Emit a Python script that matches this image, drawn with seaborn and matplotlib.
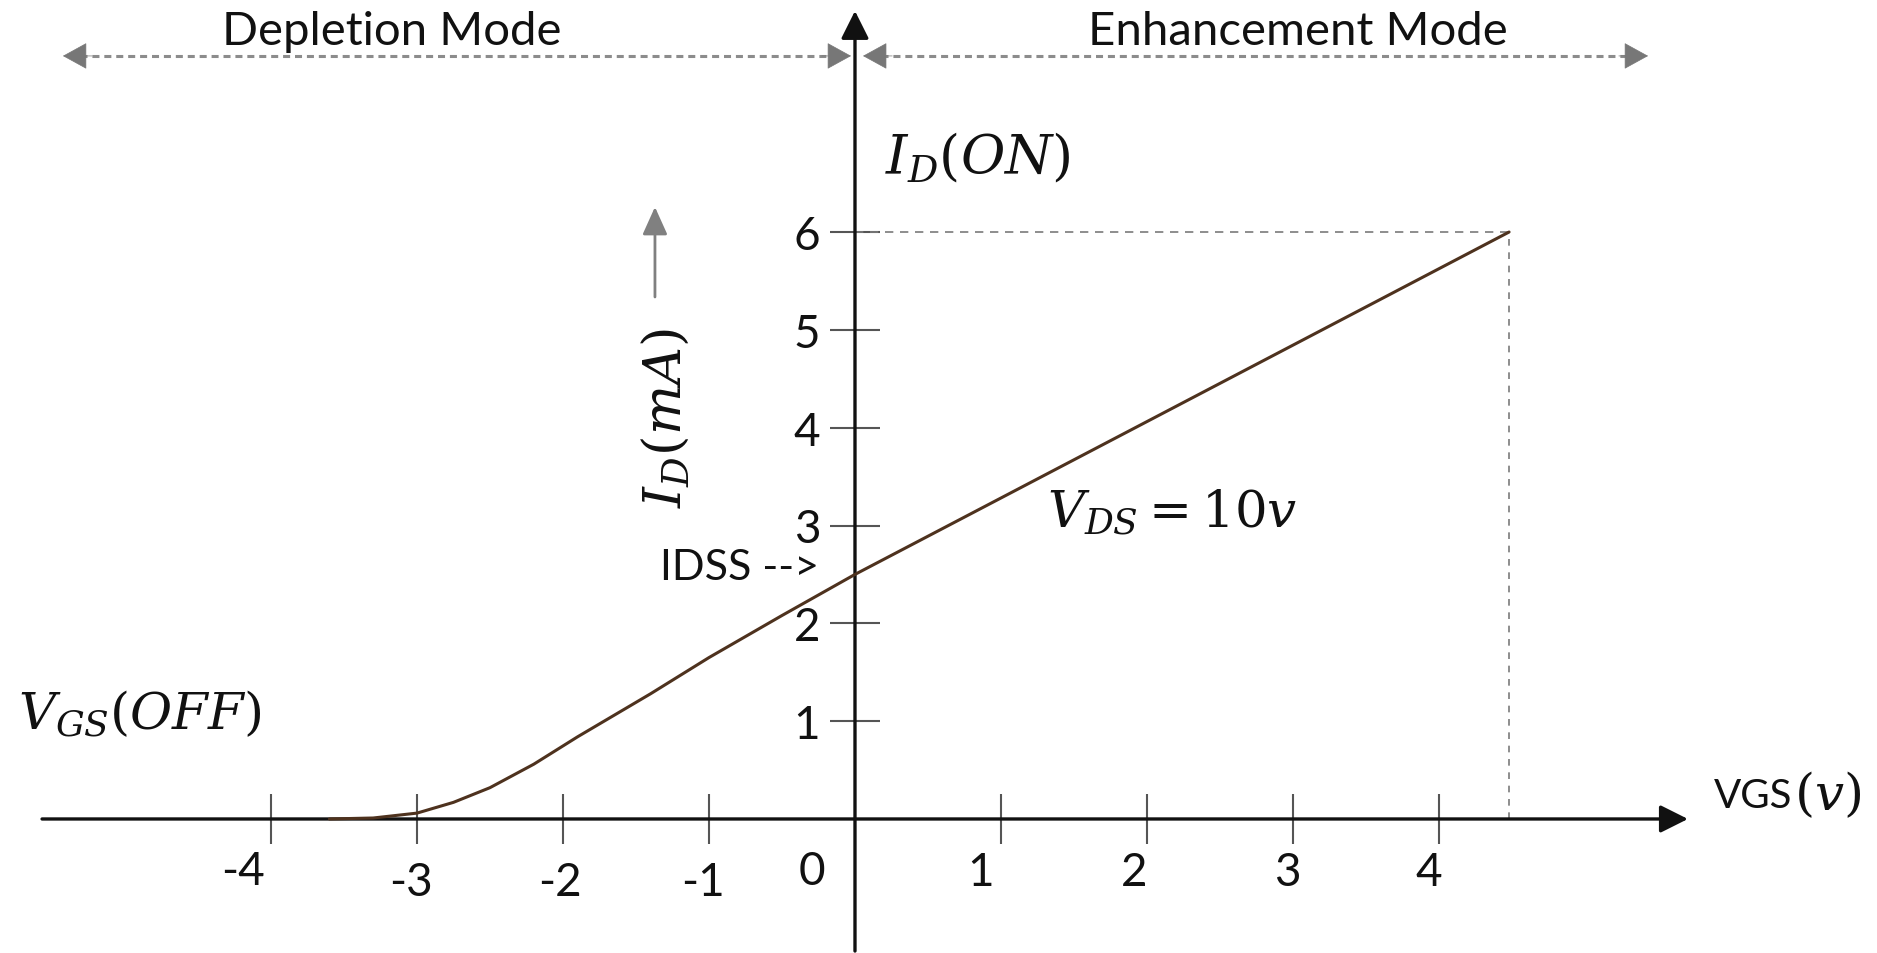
import matplotlib
matplotlib.use("Agg")
import matplotlib.pyplot as plt
import pandas as pd
import seaborn as sns

# Transfer characteristic of a depletion-type MOSFET at V_DS = 10 V
vgs_volts = [-3.6, -3.3, -3.0, -2.75, -2.5, -2.2, -1.9, -1.4, -1.0, -0.5, 0.0, 4.48]
id_milliamps = [0.0, 0.01, 0.06, 0.17, 0.32, 0.56, 0.84, 1.28, 1.65, 2.08, 2.5, 6.0]

x_ticks = [-4, -3, -2, -1, 1, 2, 3, 4]
x_tick_labels = ["-4", "-3", "-2", "-1", "1", "2", "3", "4"]
y_ticks = [1, 2, 3, 4, 5, 6]
y_tick_labels = ["1", "2", "3", "4", "5", "6"]

idss_ma = 2.5      # drain current at V_GS = 0
id_on_ma = 6.0     # I_D(ON)
vgs_on = 4.48      # gate voltage giving I_D(ON)

sns.set_theme(style="white")
plt.rcParams["font.family"] = ["Lato", "DejaVu Sans"]
plt.rcParams["mathtext.fontset"] = "dejavuserif"

INK = "#111111"
GREY = "#808080"

fig = plt.figure(figsize=(18.77, 9.54), dpi=100)
ax = fig.add_axes([0, 0, 1, 1])
ax.set_xlim(-5.856, 7.0)
ax.set_ylim(-1.370, 8.382)
ax.set_facecolor("white")

# Ticks sit on axes passing through the origin
for side in ("left", "bottom"):
    ax.spines[side].set_position(("data", 0))
    ax.spines[side].set_visible(False)
for side in ("right", "top"):
    ax.spines[side].set_visible(False)

ax.set_xticks(x_ticks)
ax.set_yticks(y_ticks)
ax.set_yticklabels(y_tick_labels)
ax.tick_params(axis="both", direction="inout", length=36, width=1.5,
               color="#555555", bottom=True, left=True)
ax.tick_params(axis="x", labelbottom=False)
ax.tick_params(axis="y", labelsize=33, pad=7, labelcolor=INK)
ax.grid(False)

# Axis lines with arrow heads
axis_arrow = dict(arrowstyle="-|>,head_length=1.0,head_width=0.5",
                  mutation_scale=17, color="#111111", lw=2.4,
                  shrinkA=0, shrinkB=0)
ax.annotate("", xy=(5.705, 0), xytext=(-5.568, 0), arrowprops=axis_arrow, zorder=2)
ax.annotate("", xy=(0, 8.26), xytext=(0, -1.35), arrowprops=axis_arrow, zorder=2)

# Hand-placed x tick labels (offsets in pixels)
label_offsets = {"-4": (-28, -52), "-3": (-6, -63), "-2": (-3, -63), "-1": (-6, -63),
                 "1": (-20, -53), "2": (-13, -53), "3": (-6, -53), "4": (-10, -53)}
for val, lab in zip(x_ticks, x_tick_labels):
    ax.annotate(lab, xy=(val, 0), xytext=label_offsets[lab], textcoords="offset pixels",
                ha="center", va="center", fontsize=33, color=INK)
ax.annotate("0", xy=(0, 0), xytext=(-43, -52), textcoords="offset pixels",
            ha="center", va="center", fontsize=33, color=INK)

# I_D(ON) guide lines
ax.plot([0, vgs_on], [id_on_ma, id_on_ma], color="#7a7a7a", lw=1.2,
        dashes=(5, 4), zorder=1)
ax.plot([vgs_on, vgs_on], [0, id_on_ma], color="#7a7a7a", lw=1.2,
        dashes=(4, 4), zorder=1)

# Characteristic curve
df = pd.DataFrame({"VGS": vgs_volts, "ID": id_milliamps})
sns.lineplot(data=df, x="VGS", y="ID", ax=ax, color="#4e321e", lw=2.2,
             sort=False, zorder=3)
ax.set_xlabel("")
ax.set_ylabel("")

# Mode region arrows
mode_y = 7.80
for x0, x1 in ((-5.425, -0.027), (0.055, 5.432)):
    ax.plot([x0 + 0.12, x1 - 0.12], [mode_y, mode_y], color="#8c8c8c", lw=2.2,
            dashes=(2.3, 1.6), zorder=2)
    head = dict(arrowstyle="-|>,head_length=1.0,head_width=0.55", mutation_scale=16,
                color="#777777", lw=0.5, shrinkA=0, shrinkB=0)
    ax.annotate("", xy=(x0, mode_y), xytext=(x0 + 0.2, mode_y), arrowprops=head)
    ax.annotate("", xy=(x1, mode_y), xytext=(x1 - 0.2, mode_y), arrowprops=head)

ax.text(-3.171, 7.92, "Depletion Mode", ha="center", va="baseline", fontsize=34, color=INK)
ax.text(3.034, 7.92, "Enhancement Mode", ha="center", va="baseline", fontsize=34, color=INK)

# Annotations
ax.text(0.205, 6.61, r"$I_D(ON)$", ha="left", va="baseline", fontsize=39, color=INK)
ax.text(1.315, 2.985, r"$V_{DS} = 10v$", ha="left", va="baseline", fontsize=37, color=INK)
ax.text(-5.733, 0.92, r"$V_{GS}(OFF)$", ha="left", va="baseline", fontsize=37, color=INK)
ax.text(-1.301, 4.11, r"$I_D(mA)$", rotation=90, ha="center", va="center",
        fontsize=38, color=INK)
ax.annotate("", xy=(-1.370, 6.256), xytext=(-1.370, 5.336),
            arrowprops=dict(arrowstyle="-|>,head_length=1.0,head_width=0.45",
                            mutation_scale=17, color=GREY, lw=2,
                            shrinkA=0, shrinkB=0))
ax.annotate("IDSS -->", xy=(0, idss_ma), xytext=(-36, -5), textcoords="offset pixels",
            ha="right", va="baseline", fontsize=31, color=INK)
ax.text(5.884, 0.12, "VGS", ha="left", va="baseline", fontsize=29, color=INK)
ax.text(6.43, 0.10, r"$(v)$", ha="left", va="baseline", fontsize=37, color=INK)

fig.savefig("out.png", dpi=100, facecolor="white")
